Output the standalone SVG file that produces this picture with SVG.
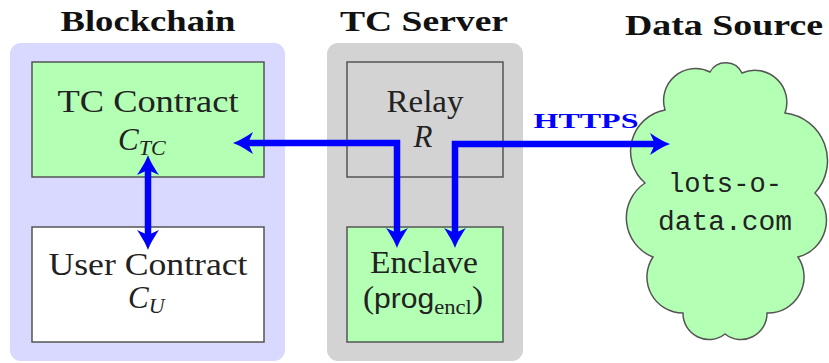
<svg xmlns="http://www.w3.org/2000/svg" width="829" height="363" viewBox="0 0 829 363">
<defs>
<style>
.box{stroke:#555;stroke-width:1.5}
.green{fill:#b3ffb3}
.conn{fill:none;stroke:#0000ff;stroke-width:6.5;stroke-linejoin:miter}
</style>
<marker id="ah" markerUnits="userSpaceOnUse" viewBox="-10 -12 24 24" refX="0" refY="0" markerWidth="24" markerHeight="24" orient="auto-start-reverse">
<path d="M12 0 C6 -2 -2 -7 -8 -11 L-3 0 L-8 11 C-2 7 6 2 12 0 Z" fill="#0000ff"/>
</marker>
</defs>
<rect width="829" height="363" fill="#fff"/>

<g id="blockchain">
<rect x="10" y="43" width="275" height="318" rx="11" fill="#d9d9ff"/>
<text font-family="'Liberation Serif', 'DejaVu Serif', serif" font-weight="bold" font-size="29" fill="#111" text-anchor="middle" x="148" y="31" textLength="175" lengthAdjust="spacingAndGlyphs">Blockchain</text>
</g>
<g id="tcserver">
<rect x="327" y="43" width="196" height="318" rx="11" fill="#d3d3d3"/>
<text font-family="'Liberation Serif', 'DejaVu Serif', serif" font-weight="bold" font-size="29" fill="#111" text-anchor="middle" x="424" y="31" textLength="168" lengthAdjust="spacingAndGlyphs">TC Server</text>
</g>
<g id="datasource-title">
<text font-family="'Liberation Serif', 'DejaVu Serif', serif" font-weight="bold" font-size="29" fill="#111" text-anchor="middle" x="724" y="35" textLength="198" lengthAdjust="spacingAndGlyphs">Data Source</text>
</g>

<g id="tc-contract">
<rect class="box green" x="32" y="62" width="232" height="115"/>
<text font-family="'Liberation Serif', 'DejaVu Serif', serif" font-size="31" fill="#222" text-anchor="middle" x="148" y="112" textLength="181" lengthAdjust="spacingAndGlyphs">TC Contract</text>
<text font-family="'Liberation Serif', 'DejaVu Serif', serif" font-style="italic" font-size="31" fill="#222" x="118" y="150">C<tspan font-size="22" dy="5">TC</tspan></text>
</g>
<g id="user-contract">
<rect class="box" x="32" y="227" width="232" height="115" fill="#fff"/>
<text font-family="'Liberation Serif', 'DejaVu Serif', serif" font-size="31" fill="#222" text-anchor="middle" x="148" y="275" textLength="199" lengthAdjust="spacingAndGlyphs">User Contract</text>
<text font-family="'Liberation Serif', 'DejaVu Serif', serif" font-style="italic" font-size="31" fill="#222" x="128" y="308">C<tspan font-size="22" dy="5">U</tspan></text>
</g>
<g id="relay">
<rect class="box" x="347" y="62" width="156" height="115" fill="#d3d3d3"/>
<text font-family="'Liberation Serif', 'DejaVu Serif', serif" font-size="31" fill="#222" text-anchor="middle" x="425" y="112" textLength="77" lengthAdjust="spacingAndGlyphs">Relay</text>
<text font-family="'Liberation Serif', 'DejaVu Serif', serif" font-style="italic" font-size="31" fill="#222" text-anchor="middle" x="423" y="147">R</text>
</g>
<g id="enclave">
<rect class="box green" x="347" y="227" width="156" height="115"/>
<text font-family="'Liberation Serif', 'DejaVu Serif', serif" font-size="31" fill="#222" text-anchor="middle" x="424" y="273" textLength="108" lengthAdjust="spacingAndGlyphs">Enclave</text>
<text font-family="'Liberation Serif', 'DejaVu Serif', serif" font-size="31" fill="#222" text-anchor="middle" x="423" y="308" textLength="120" lengthAdjust="spacingAndGlyphs">(<tspan font-family="'Liberation Sans', 'DejaVu Sans', sans-serif" font-size="28">prog</tspan><tspan font-size="21" dy="6">encl</tspan><tspan dy="-6">)</tspan></text>
</g>
<g id="datasource">
<path class="box green" d="M665 110 A32 32 0 0 1 710 72 A18 18 0 0 1 742 73 A32 32 0 0 1 785 113 A48 48 0 0 1 815 193 A38 38 0 0 1 798 257 A36 36 0 0 1 767 313 A26 26 0 0 1 725 334 A26 26 0 0 1 683 313 A36 36 0 0 1 653 257 A42 42 0 0 1 645 183 A42 42 0 0 1 665 110 Z"/>
<text font-family="'Liberation Mono', 'DejaVu Sans Mono', monospace" font-size="27" fill="#222" text-anchor="middle" x="725" y="192" textLength="114" lengthAdjust="spacingAndGlyphs">lots-o-</text>
<text font-family="'Liberation Mono', 'DejaVu Sans Mono', monospace" font-size="27" fill="#222" text-anchor="middle" x="725" y="230" textLength="134" lengthAdjust="spacingAndGlyphs">data.com</text>
</g>

<g id="connectors">
<path class="conn" d="M245 143 H397 V236" marker-start="url(#ah)" marker-end="url(#ah)"/>
<path class="conn" d="M455 236 V144 H658" marker-start="url(#ah)" marker-end="url(#ah)"/>
<path class="conn" d="M148 167 V238" marker-start="url(#ah)" marker-end="url(#ah)"/>
<text x="586" y="128" font-family="'Liberation Serif', 'DejaVu Serif', serif" font-weight="bold" font-size="21" fill="#0000ff" text-anchor="middle" textLength="105" lengthAdjust="spacingAndGlyphs">HTTPS</text>
</g>
</svg>
